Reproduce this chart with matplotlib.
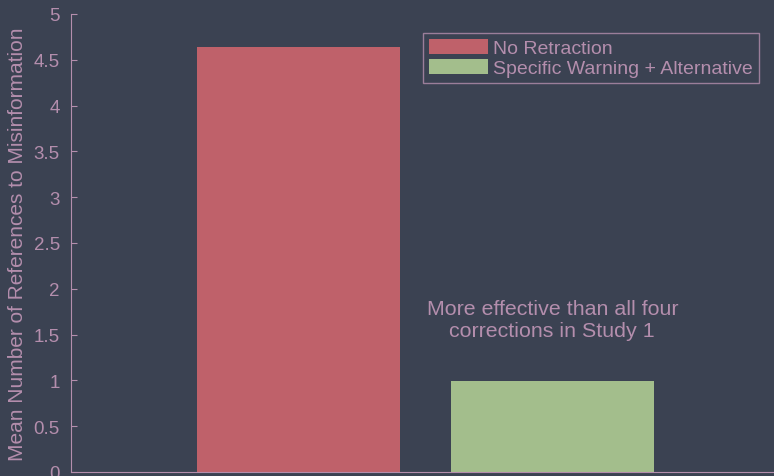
import matplotlib
matplotlib.use('Agg')
import matplotlib.pyplot as plt

plt.rcParams['font.family'] = ['Liberation Sans', 'DejaVu Sans']

conditions = ['No Retraction', 'Specific Warning + Alternative']
means = [4.64, 0.99]
bar_colors = ['#bf616a', '#a3be8c']
yticks = [0, 0.5, 1, 1.5, 2, 2.5, 3, 3.5, 4, 4.5, 5]
ytick_labels = ['0', '0.5', '1', '1.5', '2', '2.5', '3', '3.5', '4', '4.5', '5']
note = 'More effective than all four\ncorrections in Study 1'

bg = '#3b4252'
fg = '#b48ead'

fig = plt.figure(figsize=(7.74, 4.77), dpi=100, facecolor=bg)
ax = fig.add_axes([71 / 774, 4 / 477, 703 / 774, 458 / 477])
ax.set_facecolor(bg)

xs = [1, 2]
for x, m, c, lab in zip(xs, means, bar_colors, conditions):
    ax.bar(x, m, width=0.8, color=c, label=lab)

ax.set_xlim(0.103, 2.874)
ax.set_ylim(0, 5)
ax.set_yticks(yticks)
ax.set_yticklabels(ytick_labels)
ax.set_xticks([])
ax.tick_params(axis='y', direction='in', length=4, colors=fg, labelsize=13.5, pad=8)
for s in ['top', 'right']:
    ax.spines[s].set_visible(False)
for s in ['left', 'bottom']:
    ax.spines[s].set_color(fg)

ax.set_ylabel('Mean Number of References to Misinformation', color=fg, fontsize=15, labelpad=5)

ax.text(2, 1.66, note, ha='center', va='center', color=fg, fontsize=15.4, linespacing=1.2)

leg = ax.legend(loc='upper right', bbox_to_anchor=(0.9787, 0.958), fontsize=14,
                frameon=True, fancybox=False, facecolor=bg, edgecolor=fg,
                handlelength=3.0, handleheight=0.82, handletextpad=0.3,
                labelspacing=0.08, borderpad=0.3, borderaxespad=0)
leg.get_frame().set_linewidth(1)
for t in leg.get_texts():
    t.set_color(fg)

plt.savefig('out.png', dpi=100, facecolor=bg)
